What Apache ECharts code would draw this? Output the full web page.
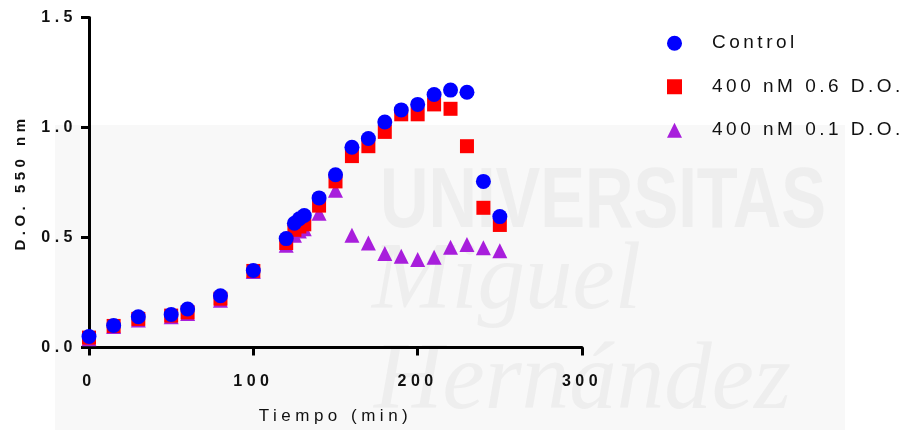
<!DOCTYPE html>
<html>
<head>
<meta charset="utf-8">
<script src="https://cdn.jsdelivr.net/npm/echarts@6/dist/echarts.min.js"></script>
<style>
  html, body { margin: 0; padding: 0; background: #fff; }
  #chart { width: 911px; height: 430px; }
</style>
</head>
<body>
<div id="chart"></div>
<script>
// tiempos de muestreo (min)
var times = [0, 15, 30, 50, 60, 80, 100, 120, 125, 128, 131, 140, 150, 160, 170, 180, 190, 200, 210, 220, 230, 240, 250]
var control = [0.05, 0.10, 0.14, 0.15, 0.175, 0.235, 0.35, 0.495, 0.565, 0.585, 0.60, 0.68, 0.785, 0.91, 0.95, 1.025, 1.08, 1.105, 1.15, 1.17, 1.16, 0.755, 0.595]
var dose06 = [0.045, 0.098, 0.13, 0.145, 0.16, 0.222, 0.348, 0.475, 0.535, 0.55, 0.56, 0.645, 0.755, 0.87, 0.915, 0.98, 1.06, 1.06, 1.105, 1.085, 0.915, 0.635, 0.557]
var dose01 = [0.04, 0.095, 0.125, 0.14, 0.155, 0.215, 0.345, 0.465, 0.51, 0.53, 0.54, 0.61, 0.715, 0.51, 0.475, 0.427, 0.415, 0.40, 0.41, 0.456, 0.468, 0.453, 0.44]
var seriesNames = ['Control', '400 nM 0.6 D.O.', '400 nM 0.1 D.O.']

// el original (Prism) usa texto espaciado; el canvas lo permite con letterSpacing
function spacingFor (font) {
  var m = /(\d+)px/.exec(font || '')
  if (!m || +m[1] >= 30) return '0px'
  return +m[1] >= 19 ? '3.5px' : '4.5px'
}
var proto = CanvasRenderingContext2D.prototype
var origFill = proto.fillText
var origMeasure = proto.measureText
proto.fillText = function (t, x, y, w) {
  this.letterSpacing = spacingFor(this.font)
  return w === undefined ? origFill.call(this, t, x, y) : origFill.call(this, t, x, y, w)
}
proto.measureText = function (t) {
  this.letterSpacing = spacingFor(this.font)
  return origMeasure.call(this, t)
}

function pairs (vals) {
  return times.map(function (t, i) { return [t, vals[i]] })
}

var chart = echarts.init(document.getElementById('chart'))

chart.setOption({
  animation: false,
  backgroundColor: '#fff',
  textStyle: { fontFamily: 'Liberation Sans, Arial, sans-serif' },
  // marca de agua de fondo
  graphic: [
    { type: 'rect', z: -10, shape: { x: 55, y: 125, width: 790, height: 305 }, style: { fill: '#f8f8f8' } },
    {
      type: 'text', z: -9, x: 380, y: 160, scaleX: 0.78,
      style: { text: 'UNIVERSITAS', font: 'bold 86px "Liberation Sans", Arial', fill: '#eeeeee', verticalAlign: 'top' }
    },
    {
      type: 'text', z: -9, x: 372, y: 236,
      style: { text: 'Miguel', font: 'italic 95px "Liberation Serif", serif', fill: '#eeeeee', verticalAlign: 'top' }
    },
    {
      type: 'text', z: -9, x: 374, y: 336,
      style: { text: 'Hernández', font: 'italic 95px "Liberation Serif", serif', fill: '#eeeeee', verticalAlign: 'top' }
    }
  ],
  grid: { left: 89, right: 329, top: 17.5, bottom: 82.5, outerBoundsMode: 'none' },
  legend: {
    orient: 'vertical',
    left: 662,
    top: 27,
    itemGap: 21,
    itemWidth: 15,
    itemHeight: 15,
    data: seriesNames,
    textStyle: { fontSize: 19, color: '#111', lineHeight: 22, padding: [0, 0, 0, 25] }
  },
  xAxis: {
    type: 'value',
    min: 0,
    max: 300,
    interval: 100,
    name: 'Tiempo (min)',
    nameLocation: 'middle',
    nameGap: 58,
    nameTextStyle: { fontSize: 17, color: '#111' },
    splitLine: { show: false },
    axisLine: { lineStyle: { color: '#000', width: 3 } },
    axisTick: { length: 8, lineStyle: { color: '#000', width: 3 } },
    axisLabel: { margin: 24, fontSize: 16, fontWeight: 'bold', color: '#111' }
  },
  yAxis: {
    type: 'value',
    min: 0,
    max: 1.5,
    interval: 0.5,
    name: 'D.O. 550 nm',
    nameLocation: 'middle',
    nameGap: 58,
    nameTextStyle: { fontSize: 15, fontWeight: 'bold', color: '#111' },
    splitLine: { show: false },
    axisLine: { show: true, lineStyle: { color: '#000', width: 3 } },
    axisTick: { show: true, length: 8, lineStyle: { color: '#000', width: 3 } },
    axisLabel: {
      margin: 12,
      fontSize: 16,
      fontWeight: 'bold',
      color: '#111',
      formatter: function (v) { return v.toFixed(1) }
    }
  },
  series: [
    {
      name: seriesNames[2],
      type: 'scatter',
      symbol: 'triangle',
      symbolSize: 15,
      itemStyle: { color: '#a81edc', opacity: 1 },
      data: pairs(dose01)
    },
    {
      name: seriesNames[1],
      type: 'scatter',
      symbol: 'rect',
      symbolSize: 14,
      itemStyle: { color: '#ff0000', opacity: 1 },
      data: pairs(dose06)
    },
    {
      name: seriesNames[0],
      type: 'scatter',
      symbol: 'circle',
      symbolSize: 15,
      itemStyle: { color: '#0000ff', opacity: 1 },
      data: pairs(control)
    }
  ]
})
</script>
</body>
</html>
